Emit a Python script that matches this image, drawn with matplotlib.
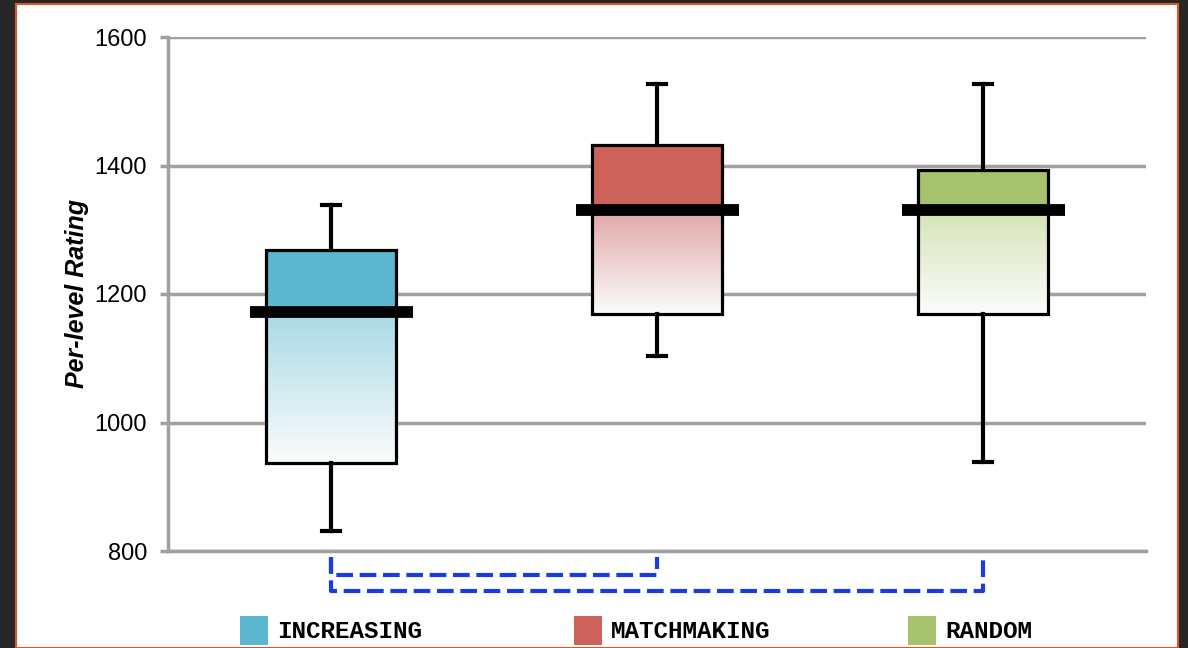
import numpy as np
import matplotlib.pyplot as plt
from matplotlib.patches import Rectangle
from matplotlib.colors import to_rgb


categories = ["INCREASING", "MATCHMAKING", "RANDOM"]
whisker_low = [831, 1103, 938]
q1 = [937, 1169, 1169]
median = [1172, 1331, 1331]
q3 = [1268, 1432, 1393]
whisker_high = [1338, 1527, 1527]

top_colors = ["#5ab7cf", "#cd625a", "#a6c26c"]
grad_colors = ["#a9d9e5", "#dfa6a6", "#d5e3b6"]

# significance brackets: (from box, to box, y level)
brackets = [(1, 2, 763), (1, 3, 738)]

yticks = [800, 1000, 1200, 1400, 1600]


fig = plt.figure(figsize=(11.88, 6.48), dpi=100)
fig.patch.set_facecolor("#262626")

panel = Rectangle((16 / 1188, 0), (1178 - 16) / 1188, 1 - 4 / 648,
                  transform=fig.transFigure, facecolor="white",
                  edgecolor="#d9572a", linewidth=1.5, zorder=0)
fig.add_artist(panel)

ax = fig.add_axes([168 / 1188, 1 - 551 / 648, (1146 - 168) / 1188, (551 - 37) / 648])
ax.set_facecolor("none")

positions = np.arange(1, len(categories) + 1)
half = 0.2

stats = []
for i in range(len(categories)):
    stats.append(dict(med=median[i], q1=q1[i], q3=q3[i],
                      whislo=whisker_low[i], whishi=whisker_high[i], fliers=[]))

# gradient fills first, under the box outlines
for i, pos in enumerate(positions):
    ax.add_patch(Rectangle((pos - half, median[i]), 2 * half, q3[i] - median[i],
                           facecolor=top_colors[i], edgecolor="none", zorder=2))
    c0 = np.array(to_rgb(grad_colors[i]))
    c1 = np.array([0.985, 0.99, 0.99])
    t = np.linspace(0, 1, 256)[:, None]
    grad = (c0 * (1 - t) + c1 * t)[:, None, :]
    ax.imshow(grad, extent=(pos - half, pos + half, q1[i], median[i]),
              origin="upper", aspect="auto", zorder=2, interpolation="bilinear")

ax.bxp(stats, positions=positions, widths=2 * half, capwidths=0.055,
       showfliers=False, patch_artist=True,
       boxprops=dict(facecolor="none", edgecolor="black", linewidth=2.3),
       whiskerprops=dict(color="black", linewidth=3),
       capprops=dict(color="black", linewidth=3),
       medianprops=dict(linewidth=0), zorder=3)

ax.hlines(median, positions - 0.25, positions + 0.25, colors="black",
          linewidth=8.5, zorder=4)

for a, b, y in brackets:
    ax.plot([a, a, b, b], [791, y, y, 791], color="#1a3be0", linewidth=3,
             linestyle=(0, (4, 1.6)), clip_on=False, zorder=5)

ax.set_xlim(0.5, 3.5)
ax.set_ylim(800, 1600)
ax.set_yticks(yticks)
ax.set_xticks([])
ax.yaxis.grid(True, color="#a0a0a0", linewidth=2.5)
ax.set_axisbelow(True)
for side in ["top", "right"]:
    ax.spines[side].set_visible(False)
for side in ["left", "bottom"]:
    ax.spines[side].set_color("#a0a0a0")
    ax.spines[side].set_linewidth(2.5)
ax.tick_params(axis="y", colors="#a0a0a0", width=2.5, length=6, labelsize=17,
               labelcolor="black", pad=9)
for lab in ax.get_yticklabels():
    lab.set_fontfamily("Liberation Sans")

ax.set_ylabel("Per-level Rating", fontsize=18, fontstyle="italic",
              fontweight="bold", fontfamily="Liberation Sans", labelpad=4)

legend_x = [240, 574, 908]
for i, name in enumerate(categories):
    fig.add_artist(Rectangle((legend_x[i] / 1188, 1 - 645 / 648), 28 / 1188, 29 / 648,
                             transform=fig.transFigure, facecolor=top_colors[i],
                             edgecolor="none"))
    fig.text((legend_x[i] + 37) / 1188, 1 - 631 / 648, name, fontsize=17.5,
             fontweight="bold", fontfamily="Liberation Mono", va="center", ha="left")

fig.savefig("out.png", dpi=100, facecolor=fig.get_facecolor())
